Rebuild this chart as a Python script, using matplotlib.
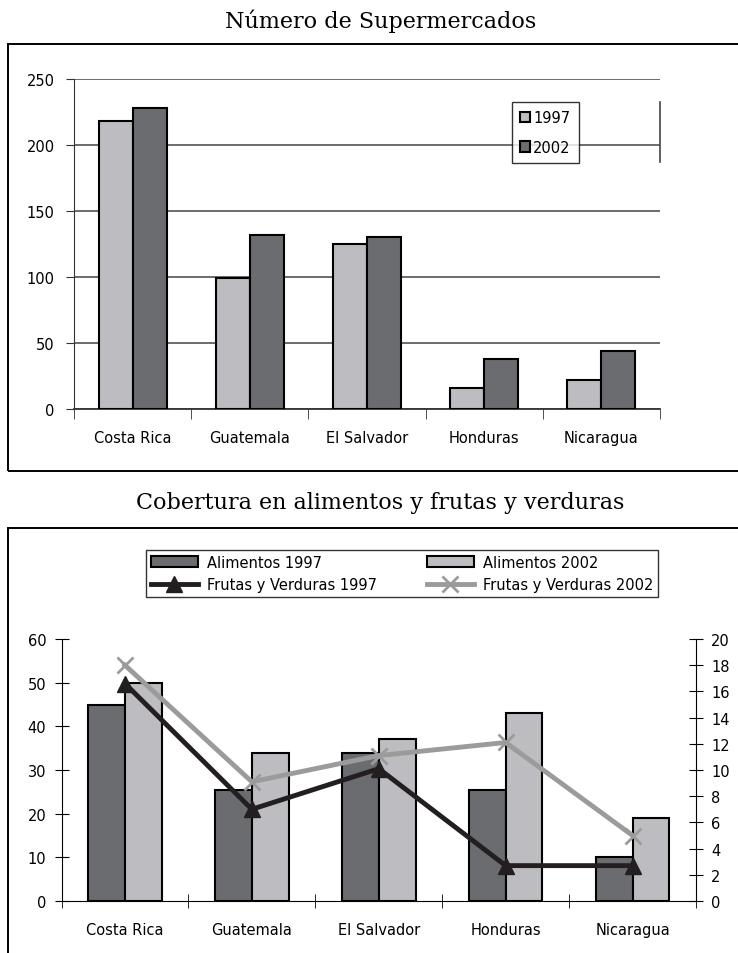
import numpy as np
import matplotlib.pyplot as plt
from matplotlib.patches import Rectangle
from matplotlib.lines import Line2D

plt.rcParams['font.family'] = ['DejaVu Sans']

paises = ['Costa Rica', 'Guatemala', 'El Salvador', 'Honduras', 'Nicaragua']
super_1997 = [218, 99, 125, 16, 22]
super_2002 = [228, 132, 130, 38, 44]

alim_1997 = [45, 25.5, 34, 25.5, 10]
alim_2002 = [50, 34, 37, 43, 19]
fyv_1997 = [16.6, 7.0, 10.1, 2.7, 2.7]
fyv_2002 = [18.0, 9.1, 11.1, 12.1, 5.0]

W, H = 738, 954
light = '#bdbdc1'
dark = '#6b6c70'
fs = 10.5

def px(x0, y0, x1, y1):
    # pixel box (top-left origin) -> figure fraction rect
    return [x0 / W, 1 - y1 / H, (x1 - x0) / W, (y1 - y0) / H]

fig = plt.figure(figsize=(W / 100, H / 100), dpi=100)

# outer frames
fig.add_artist(Rectangle((8 / W, 1 - 472 / H), 740 / W, 427 / H, transform=fig.transFigure,
                         fill=False, ec='black', lw=1.4))
fig.add_artist(Rectangle((8 / W, -0.01), 740 / W, 1 - 529 / H + 0.01, transform=fig.transFigure,
                         fill=False, ec='black', lw=1.4))

fig.text(381 / W, 1 - 21 / H, 'Número de Supermercados', family='DejaVu Serif',
         fontsize=16, ha='center', va='center')
fig.text(380 / W, 1 - 503 / H, 'Cobertura en alimentos y frutas y verduras',
         family='DejaVu Serif', fontsize=16, ha='center', va='center')

x = np.arange(len(paises))
w = 0.29

# --- top chart
ax = fig.add_axes(px(74, 80, 660, 410))
ax.bar(x - w / 2, super_1997, w, color=light, ec='black', lw=1.5, zorder=3, label='1997')
ax.bar(x + w / 2, super_2002, w, color=dark, ec='black', lw=1.5, zorder=3, label='2002')
ax.set_xlim(-0.5, 4.5)
ax.set_ylim(0, 250)
ax.set_yticks(range(0, 251, 50))
ax.yaxis.grid(True, color='#444444', lw=1.1, zorder=0)
ax.set_axisbelow(True)
for s in ['top', 'right']:
    ax.spines[s].set_visible(False)
ax.spines['left'].set_color('#333333')
ax.spines['bottom'].set_color('#333333')
ax.spines['bottom'].set_linewidth(1.3)
ax.set_xticks(x)
ax.set_xticklabels(paises, fontsize=fs)
ax.set_xticks(np.arange(-0.5, 5, 1), minor=True)
ax.tick_params(axis='x', which='major', length=0, pad=15)
ax.tick_params(axis='x', which='minor', length=7, direction='out', color='#333333')
ax.tick_params(axis='y', length=6, direction='out', labelsize=fs, pad=8, color='#333333')
ax.legend(loc='upper left', bbox_to_anchor=(512 / W, 1 - 103 / H), bbox_transform=fig.transFigure,
          frameon=True, fancybox=False, edgecolor='black', fontsize=fs,
          handlelength=0.7, handleheight=0.7, handletextpad=0.2, labelspacing=1.0,
          borderpad=0.55, borderaxespad=0)
fig.add_artist(Line2D([660 / W] * 2, [1 - 103 / H, 1 - 163 / H], transform=fig.transFigure,
                      color='#444444', lw=1.2))

# --- bottom chart
ax2 = fig.add_axes(px(61.5, 640, 696, 902))
b1 = ax2.bar(x - w / 2, alim_1997, w, color=dark, ec='black', lw=1.5, zorder=2)
b2 = ax2.bar(x + w / 2, alim_2002, w, color=light, ec='black', lw=1.5, zorder=2)
ax2.set_xlim(-0.5, 4.5)
ax2.set_ylim(0, 60)
ax2.set_yticks(range(0, 61, 10))
for s in ['top', 'right']:
    ax2.spines[s].set_visible(False)
ax2.set_xticks(x)
ax2.set_xticklabels(paises, fontsize=fs)
ax2.set_xticks(np.arange(-0.5, 5, 1), minor=True)
ax2.tick_params(axis='x', which='major', length=0, pad=15)
ax2.tick_params(axis='x', which='minor', length=10, direction='inout')
ax2.tick_params(axis='y', length=10, direction='inout', labelsize=fs, pad=6)

ax3 = ax2.twinx()
l1, = ax3.plot(x, fyv_1997, color='#231f20', lw=3.5, marker='^', ms=11, zorder=4)
l2, = ax3.plot(x, fyv_2002, color='#9b9b9b', lw=3.5, marker='x', ms=12, mew=2, zorder=3)
ax3.set_ylim(0, 20)
ax3.set_yticks(range(0, 21, 2))
for s in ['top', 'left', 'bottom']:
    ax3.spines[s].set_visible(False)
ax3.tick_params(axis='y', length=10, direction='inout', labelsize=fs, pad=6)

fig.legend([b1, l1, b2, l2],
           ['Alimentos 1997', 'Frutas y Verduras 1997', 'Alimentos 2002', 'Frutas y Verduras 2002'],
           loc='lower left', bbox_to_anchor=(146 / W, 1 - 598 / H, 512 / W, 60 / H),
           mode='expand', ncol=2, frameon=True, fancybox=False, edgecolor='black',
           fontsize=fs, handlelength=3.2, handletextpad=0.6, borderaxespad=0,
           labelspacing=0.5, borderpad=0.35)

plt.savefig('out.png', dpi=100)
